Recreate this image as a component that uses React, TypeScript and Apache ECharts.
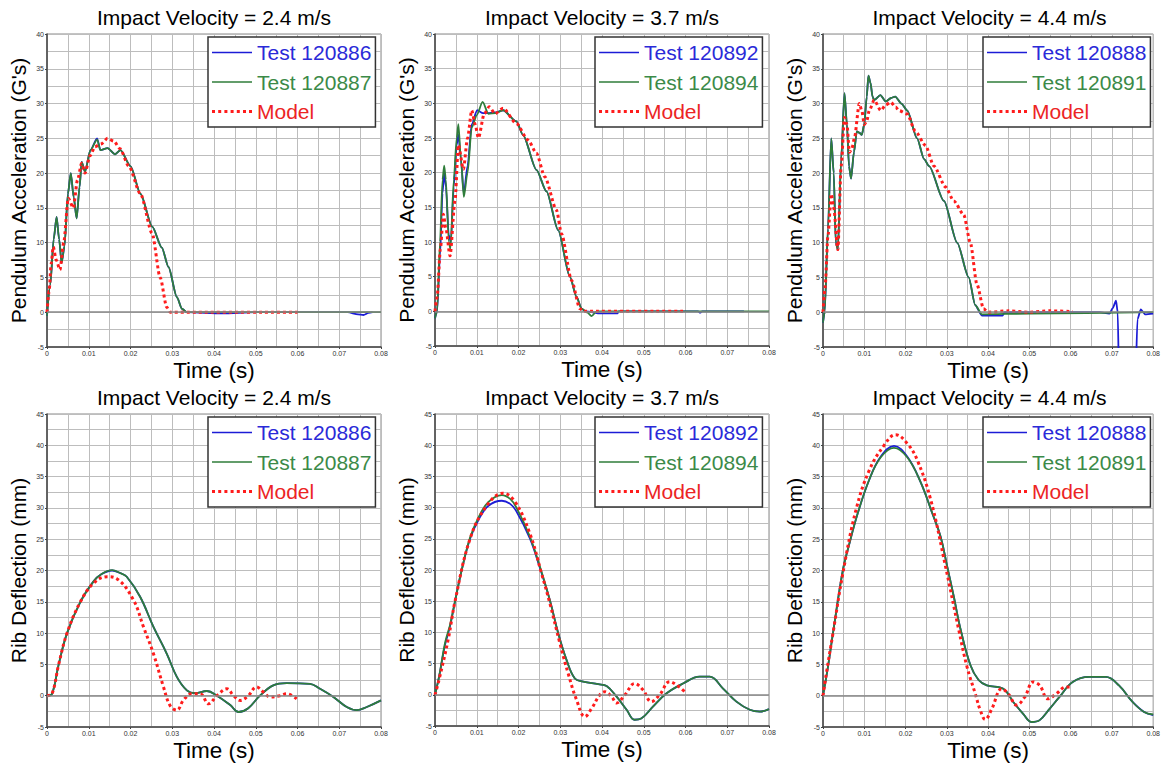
import React, { useEffect, useRef } from "react";
import * as echarts from "echarts";

type Pt = [number, number];

// ---------- Top row: Pendulum acceleration (G's) ----------
const acc24Test120886: Pt[] = [
  [0, -0.5], [0.0008, 4], [0.0016, 10.5], [0.0023, 13.7], [0.0029, 10.5], [0.0035, 7.1], [0.0042, 9.5],
  [0.005, 17], [0.0057, 20], [0.0064, 16.5], [0.0071, 13.5], [0.0078, 18], [0.0083, 21.6], [0.0091, 20.2],
  [0.0104, 23.3], [0.012, 25], [0.0128, 23.3], [0.0145, 23.6], [0.0163, 22.7], [0.0176, 23.3], [0.02, 21],
  [0.0224, 17], [0.0252, 12.3], [0.0275, 9.3], [0.0291, 6.5], [0.0311, 2.2], [0.0323, 0.5], [0.0335, 0],
  [0.042, -0.15], [0.05, 0], [0.072, 0], [0.0745, -0.3], [0.0758, -0.4], [0.077, -0.1], [0.078, 0],
];
const acc24Test120887: Pt[] = [
  [0, -0.5], [0.0008, 4], [0.0016, 10.5], [0.0023, 13.7], [0.0029, 10.5], [0.0035, 7.1], [0.0042, 9.5],
  [0.005, 17], [0.0057, 20], [0.0064, 16.5], [0.0071, 13.5], [0.0078, 18], [0.0083, 21.6], [0.0091, 20.2],
  [0.0104, 23.3], [0.012, 24.8], [0.0128, 23.3], [0.0145, 23.6], [0.0163, 22.7], [0.0176, 23.3], [0.02, 21],
  [0.0224, 17], [0.0252, 12.3], [0.0275, 9.3], [0.0291, 6.5], [0.0311, 2.2], [0.0323, 0.5], [0.0335, 0],
  [0.08, 0],
];
const acc24Model: Pt[] = [
  [0, 0], [0.0005, 3], [0.001, 7], [0.0015, 9.4], [0.0022, 7.5], [0.0031, 6.1], [0.004, 10], [0.0051, 16.4],
  [0.0063, 15], [0.0073, 19], [0.0083, 21.4], [0.0091, 20], [0.0103, 22.5], [0.0115, 23.8], [0.013, 24.2],
  [0.0145, 25], [0.016, 24.6], [0.0175, 23.5], [0.0196, 21], [0.0224, 17], [0.0252, 11.3], [0.0271, 5],
  [0.0287, 0.7], [0.0295, 0], [0.06, 0],
];

const acc37Test120892: Pt[] = [
  [0, -1], [0.0005, 0], [0.0012, 8], [0.0018, 17], [0.0022, 20], [0.0026, 18], [0.0033, 11], [0.0038, 10],
  [0.0045, 18], [0.0052, 24], [0.0056, 25.5], [0.0062, 22], [0.0069, 17], [0.0078, 21], [0.0088, 27],
  [0.0101, 29], [0.0115, 28.6], [0.013, 28.6], [0.0145, 28.7], [0.0163, 29], [0.0195, 27.4], [0.0211, 25.4],
  [0.0243, 20.4], [0.0267, 17.3], [0.0295, 11.7], [0.0323, 5], [0.0339, 2.1], [0.0351, 0.4], [0.036, 0],
  [0.0375, -0.1], [0.039, -0.3], [0.0437, -0.3], [0.044, 0], [0.063, 0], [0.0635, -0.2], [0.064, 0], [0.074, 0],
];
const acc37Test120894: Pt[] = [
  [0, -1], [0.0005, 0], [0.0012, 10], [0.0018, 19], [0.0022, 21], [0.0026, 19], [0.0033, 10], [0.0037, 9],
  [0.0045, 19], [0.0052, 25], [0.0056, 27], [0.0062, 22], [0.0069, 16.5], [0.0078, 20], [0.0088, 26.5],
  [0.01, 28.3], [0.0114, 30.2], [0.0128, 28.5], [0.0145, 28.6], [0.0163, 29], [0.0195, 27.4], [0.0211, 25.4],
  [0.0243, 20.4], [0.0267, 17.3], [0.0295, 11.7], [0.0323, 5], [0.0339, 2.1], [0.0351, 0.4], [0.0365, -0.2],
  [0.0375, -0.7], [0.0387, 0], [0.08, 0],
];
const acc37Model: Pt[] = [
  [0, 0], [0.0005, 2], [0.0013, 9], [0.002, 14], [0.0026, 12], [0.0036, 8], [0.0048, 16], [0.0056, 24],
  [0.0068, 20.5], [0.0078, 25], [0.0088, 29], [0.0096, 27], [0.0104, 25], [0.0118, 28.5], [0.013, 29.5],
  [0.0144, 28.5], [0.0163, 29.3], [0.0195, 27.1], [0.0223, 24.7], [0.0243, 22.8], [0.0263, 19.4],
  [0.0291, 14.6], [0.0303, 11.2], [0.0327, 4.5], [0.0347, 0.4], [0.0355, 0], [0.0594, 0],
];

const acc44Test120888: Pt[] = [
  [0, -1.5], [0.0004, 0], [0.0012, 12], [0.002, 25], [0.0026, 20], [0.0031, 10], [0.0036, 9], [0.0044, 22],
  [0.0052, 31.5], [0.0058, 27], [0.0063, 21], [0.0068, 19.2], [0.0075, 23], [0.0082, 26], [0.0088, 25.8],
  [0.0094, 25.5], [0.01, 27], [0.0106, 31], [0.011, 34], [0.0115, 33], [0.012, 31], [0.0124, 30.5],
  [0.0139, 31.2], [0.0152, 30.3], [0.0165, 30.8], [0.0175, 31], [0.019, 30], [0.0204, 29], [0.0228, 25],
  [0.0245, 22], [0.0257, 21], [0.0293, 16], [0.0325, 10], [0.0353, 5], [0.0369, 1], [0.0385, -0.5],
  [0.0435, -0.5], [0.044, 0], [0.067, 0], [0.0694, -0.2], [0.0702, 0.6], [0.071, 1.65], [0.0714, 0],
  [0.0718, -12], [0.0756, -12], [0.0762, -1], [0.077, 0.4], [0.0776, 0], [0.078, -0.3], [0.08, -0.2],
];
const acc44Test120891: Pt[] = [
  [0, -1.5], [0.0004, 0], [0.0012, 12], [0.002, 25], [0.0026, 20], [0.0031, 10], [0.0036, 9], [0.0044, 22],
  [0.0052, 31.5], [0.0058, 27], [0.0063, 21], [0.0068, 19.2], [0.0075, 23], [0.0082, 26], [0.0088, 25.8],
  [0.0094, 25.5], [0.01, 27], [0.0106, 31], [0.011, 34], [0.0115, 33], [0.012, 31], [0.0124, 30.5],
  [0.0139, 31.2], [0.0152, 30.3], [0.0165, 30.8], [0.0175, 31], [0.019, 30], [0.0204, 29], [0.0228, 25],
  [0.0245, 22], [0.0257, 21], [0.0293, 16], [0.0325, 10], [0.0353, 5], [0.0369, 1], [0.0385, -0.3],
  [0.05, -0.2], [0.08, 0],
];
const acc44Model: Pt[] = [
  [0, 0], [0.0005, 3.5], [0.0012, 11], [0.002, 17], [0.0026, 15], [0.0036, 9], [0.0044, 21], [0.0052, 28],
  [0.0058, 27], [0.0064, 23], [0.007, 23.5], [0.0076, 25], [0.0088, 30], [0.0094, 29], [0.01, 27],
  [0.0106, 27.5], [0.0112, 29], [0.0124, 30.5], [0.014, 29], [0.0152, 29.8], [0.0164, 30.2], [0.0176, 29.5],
  [0.0184, 29], [0.0204, 28.5], [0.0224, 26], [0.0248, 24], [0.0269, 21], [0.0297, 18], [0.0317, 16],
  [0.0341, 14], [0.0357, 10], [0.0373, 4], [0.0389, 0.5], [0.04, 0], [0.045, 0.2], [0.05, 0], [0.055, 0.2],
  [0.0605, 0.1],
];

// ---------- Bottom row: Rib deflection (mm) ----------
const def24Test120886: Pt[] = [
  [0, 0], [0.0012, 0.3], [0.0028, 5], [0.0048, 10], [0.008, 15], [0.0112, 18.3], [0.013, 19.4],
  [0.0156, 20], [0.0175, 19.6], [0.0191, 19], [0.0223, 15.8], [0.0255, 11], [0.0287, 6.7], [0.0311, 3],
  [0.0335, 0.85], [0.0355, 0.4], [0.0383, 0.75], [0.0407, 0], [0.0439, -1.5], [0.0459, -2.6], [0.0482, -2],
  [0.051, 0], [0.0542, 1.65], [0.0574, 2], [0.063, 1.9], [0.0654, 1.1], [0.0686, -0.2], [0.0718, -1.8],
  [0.0742, -2.3], [0.0766, -1.8], [0.08, -0.75],
];
const def24Test120887: Pt[] = [
  [0, 0], [0.0012, 0.3], [0.0028, 5], [0.0048, 10], [0.008, 15], [0.0112, 18.3], [0.013, 19.4],
  [0.0156, 20.05], [0.0175, 19.6], [0.0191, 19], [0.0223, 15.8], [0.0255, 11], [0.0287, 6.7], [0.0311, 3],
  [0.0335, 0.85], [0.0355, 0.4], [0.0383, 0.75], [0.0407, 0], [0.0439, -1.5], [0.0459, -2.6], [0.0482, -2],
  [0.051, 0], [0.0542, 1.65], [0.0574, 2], [0.063, 1.9], [0.0654, 1.1], [0.0686, -0.2], [0.0718, -1.8],
  [0.0742, -2.3], [0.0766, -1.8], [0.08, -0.75],
];
const def24Model: Pt[] = [
  [0, 0], [0.0012, 0.3], [0.0028, 5], [0.0048, 10], [0.008, 15], [0.0112, 18], [0.0144, 19], [0.0167, 18.7],
  [0.0207, 15.3], [0.0231, 11], [0.0255, 6.7], [0.0279, 1.4], [0.0295, -1.6], [0.0311, -2.3], [0.0327, -0.7],
  [0.0347, 0.3], [0.0367, 0.3], [0.0387, -1.3], [0.0407, 0], [0.0431, 1.1], [0.0447, 0], [0.0463, -0.75],
  [0.0482, 0], [0.0502, 1.4], [0.0518, 0.6], [0.0534, -0.2], [0.0558, 0], [0.0574, 0.3], [0.0598, -0.5],
];

const def37Test120892: Pt[] = [
  [0, 0], [0.001, 3], [0.0024, 8], [0.0036, 11], [0.0048, 15], [0.0064, 20], [0.0084, 25], [0.0104, 28],
  [0.0128, 30.3], [0.016, 31.1], [0.018, 30.6], [0.0195, 29.4], [0.0227, 25.1], [0.0251, 20.4], [0.0275, 15.2],
  [0.0295, 9.9], [0.0315, 5.6], [0.0335, 2.6], [0.0355, 2.1], [0.0391, 1.7], [0.0411, 1.4], [0.0435, -0.3],
  [0.0459, -2.4], [0.0478, -4], [0.0494, -3.8], [0.0522, -1.9], [0.0554, 0.2], [0.0594, 1.8], [0.0634, 2.9],
  [0.0658, 2.9], [0.069, 1], [0.0722, -1.1], [0.0754, -2.4], [0.0778, -2.7], [0.08, -2.3],
];
const def37Test120894: Pt[] = [
  [0, 0], [0.001, 3], [0.0024, 8.3], [0.0036, 11.2], [0.0048, 15], [0.0064, 20], [0.0084, 25.2], [0.0104, 28.4],
  [0.0128, 30.9], [0.016, 32], [0.018, 31.4], [0.0195, 30], [0.0227, 25.4], [0.0251, 20.6], [0.0275, 15.2],
  [0.0295, 9.9], [0.0315, 5.6], [0.0335, 2.6], [0.0355, 2.1], [0.0391, 1.7], [0.0411, 1.4], [0.0435, -0.3],
  [0.0459, -2.4], [0.0478, -4], [0.0494, -3.8], [0.0522, -1.9], [0.0554, 0.2], [0.0594, 1.8], [0.0634, 2.9],
  [0.0658, 2.9], [0.069, 1], [0.0722, -1.1], [0.0754, -2.4], [0.0778, -2.7], [0.08, -2.3],
];
const def37Model: Pt[] = [
  [0, 0], [0.001, 2.5], [0.0032, 9], [0.0048, 15], [0.0084, 25], [0.0124, 30.3], [0.0163, 32.3],
  [0.0191, 31], [0.0227, 25.9], [0.0255, 19.5], [0.0275, 14.7], [0.0299, 8.3], [0.0319, 3.4], [0.0339, -0.8],
  [0.0359, -3.5], [0.0375, -2.2], [0.0395, 0], [0.0407, 0.5], [0.0423, -0.3], [0.0435, -1.3], [0.0455, 0],
  [0.0478, 1.8], [0.0498, 0.8], [0.0518, -1.1], [0.0538, 0], [0.0562, 2.1], [0.0578, 1.6], [0.0598, 0.5],
];

const def44Test120888: Pt[] = [
  [0, 0], [0.0012, 4.6], [0.0024, 9.9], [0.0048, 20], [0.0064, 24.3], [0.0084, 29.1], [0.0112, 34.5],
  [0.014, 38.2], [0.0172, 39.9], [0.0204, 38.2], [0.0236, 34.2], [0.0265, 29.1], [0.0285, 25.4],
  [0.0301, 20.6], [0.0317, 15.8], [0.0333, 10.7], [0.0357, 4.9], [0.0377, 2.5], [0.0397, 1.65], [0.0437, 1.1],
  [0.0461, -1], [0.0485, -2.9], [0.0505, -4.2], [0.0525, -3.9], [0.0549, -2.1], [0.0573, -0.2],
  [0.0605, 2.2], [0.0645, 3], [0.0685, 3], [0.0717, 1.65], [0.075, -1], [0.0778, -2.6], [0.08, -3.1],
];
const def44Test120891: Pt[] = [
  [0, 0], [0.0012, 4.6], [0.0024, 9.9], [0.0048, 20], [0.0064, 24.3], [0.0084, 29.1], [0.0112, 34.5],
  [0.014, 38.1], [0.0172, 39.6], [0.0204, 38.1], [0.0236, 34.2], [0.0265, 29.1], [0.0285, 25.4],
  [0.0301, 20.6], [0.0317, 15.8], [0.0333, 10.7], [0.0357, 4.9], [0.0377, 2.5], [0.0397, 1.65], [0.0437, 1.1],
  [0.0461, -1], [0.0485, -2.9], [0.0505, -4.2], [0.0525, -3.9], [0.0549, -2.1], [0.0573, -0.2],
  [0.0605, 2.2], [0.0645, 3], [0.0685, 3], [0.0717, 1.65], [0.075, -1], [0.0778, -2.6], [0.08, -3],
];
const def44Model: Pt[] = [
  [0, 0], [0.0008, 3.5], [0.0024, 9.9], [0.0048, 19.5], [0.008, 29.7], [0.0112, 36], [0.0148, 40],
  [0.0176, 41.7], [0.0204, 40.3], [0.0228, 37.7], [0.0261, 31.3], [0.0297, 20.6], [0.0329, 10.5],
  [0.0349, 4.6], [0.0369, 0.3], [0.0381, -2.3], [0.0393, -3.8], [0.0409, -2.1], [0.0433, 1.1], [0.0449, 0.3],
  [0.0469, -1.5], [0.0489, -0.2], [0.0509, 2.2], [0.0525, 1.65], [0.0545, -0.5], [0.0565, 0.3],
  [0.0589, 1.4], [0.0601, 1.4],
];

// ---------- Labels ----------
const panelTitles = [
  "Impact Velocity = 2.4 m/s", "Impact Velocity = 3.7 m/s", "Impact Velocity = 4.4 m/s",
  "Impact Velocity = 2.4 m/s", "Impact Velocity = 3.7 m/s", "Impact Velocity = 4.4 m/s",
];
const testNames = [
  ["Test 120886", "Test 120887"], ["Test 120892", "Test 120894"], ["Test 120888", "Test 120891"],
  ["Test 120886", "Test 120887"], ["Test 120892", "Test 120894"], ["Test 120888", "Test 120891"],
];
const modelName = "Model";
const xName = "Time (s)";
const yNames = ["Pendulum Acceleration (G's)", "Rib Deflection (mm)"];
const yMaxes = [40, 45];
const panelData: Pt[][][] = [
  [acc24Test120886, acc24Test120887, acc24Model],
  [acc37Test120892, acc37Test120894, acc37Model],
  [acc44Test120888, acc44Test120891, acc44Model],
  [def24Test120886, def24Test120887, def24Model],
  [def37Test120892, def37Test120894, def37Model],
  [def44Test120888, def44Test120891, def44Model],
];

const FONT = '"Liberation Sans", Arial, Helvetica, sans-serif';
const BLUE = "#1c1cd6";
const GREEN = "#2f7d3a";
const RED = "#ff1c1c";
const GRID_C = "#bdbdbd";
const AXIS_C = "#444";
const SMOOTH = [0.25, 0.4];
const MONOTONE = ["x", undefined];

const SOLID_ICON = "path://M0,0H40V1.6H0Z";
const DOT_ICON =
  "path://M0,0h3v3h-3z M6.2,0h3v3h-3z M12.4,0h3v3h-3z M18.6,0h3v3h-3z M24.8,0h3v3h-3z M31,0h3v3h-3z M37,0h3v3h-3z";

const layout = [
  { left: 47, top: 34, width: 334, height: 313 },
  { left: 435, top: 34, width: 334, height: 312 },
  { left: 823, top: 34, width: 333, height: 313 },
  { left: 47, top: 414, width: 334, height: 313 },
  { left: 435, top: 414, width: 334, height: 312 },
  { left: 823, top: 414, width: 333, height: 313 },
];

function buildOption() {
  const grid: any[] = [];
  const xAxis: any[] = [];
  const yAxis: any[] = [];
  const title: any[] = [];
  const legend: any[] = [];
  const series: any[] = [];

  layout.forEach((g, i) => {
    const row = i < 3 ? 0 : 1;
    const smooth = SMOOTH[row];
    const smoothMonotone = MONOTONE[row];
    grid.push({ ...g, show: true, borderColor: "#888", borderWidth: 1, backgroundColor: "#fff" });
    xAxis.push({
      type: "value", gridIndex: i, min: 0, max: 0.08, interval: 0.01,
      name: xName, nameLocation: "middle", nameGap: 12,
      nameTextStyle: { fontSize: 22.5, color: "#000", fontFamily: FONT },
      axisLine: { show: true, onZero: false, lineStyle: { color: AXIS_C, width: 1.5 } },
      axisTick: { show: true, length: 2, lineStyle: { color: AXIS_C } },
      axisLabel: { fontSize: 7, color: "#333", margin: 3, fontFamily: FONT },
      splitLine: { show: true, lineStyle: { color: GRID_C, width: 1 } },
      minorTick: { show: false, splitNumber: 2 },
      minorSplitLine: { show: true, lineStyle: { color: GRID_C, width: 1 } },
    });
    yAxis.push({
      type: "value", gridIndex: i, min: -5, max: yMaxes[row], interval: 5,
      name: yNames[row], nameLocation: "middle", nameGap: 18, nameRotate: 90,
      nameTextStyle: { fontSize: 21, color: "#000", fontFamily: FONT },
      axisLine: { show: true, lineStyle: { color: AXIS_C, width: 1.5 } },
      axisTick: { show: true, length: 2, lineStyle: { color: AXIS_C } },
      axisLabel: { fontSize: 7, color: "#333", margin: 3, fontFamily: FONT },
      splitLine: { show: true, lineStyle: { color: GRID_C, width: 1 } },
      minorTick: { show: false, splitNumber: 2 },
      minorSplitLine: { show: true, lineStyle: { color: GRID_C, width: 1 } },
    });
    title.push({
      text: panelTitles[i], left: g.left + g.width / 2, top: g.top - 27, textAlign: "center", padding: 0,
      textStyle: { fontSize: 21, fontWeight: "normal", color: "#000", fontFamily: FONT },
    });
    const [b, gr, m] = panelData[i];
    legend.push({
      orient: "vertical", left: g.left + g.width - 173 + (i % 3 === 1 ? -1 : 0), top: g.top + 3,
      padding: [5, 4, 5, 4], itemGap: 8.5, itemWidth: 40, itemHeight: 12,
      backgroundColor: "#fff", borderColor: "#333", borderWidth: 1.5,
      textStyle: { fontSize: 21, fontFamily: FONT },
      selectedMode: false,
      data: [
        { name: testNames[i][0], icon: SOLID_ICON, itemStyle: { color: BLUE }, textStyle: { color: "#2a2ad8" } },
        { name: testNames[i][1], icon: SOLID_ICON, itemStyle: { color: GREEN }, textStyle: { color: "#3b8a48" } },
        { name: modelName, icon: DOT_ICON, itemStyle: { color: RED }, textStyle: { color: "#ec2424" } },
      ],
    });
    series.push({
      type: "line", name: "zero-" + i, xAxisIndex: i, yAxisIndex: i, data: [], z: 1,
      markLine: {
        silent: true, symbol: "none", label: { show: false },
        lineStyle: { color: "#888", width: 1.5, type: "solid" },
        data: [{ yAxis: 0 }],
      },
    });
    series.push({
      type: "line", name: testNames[i][0], xAxisIndex: i, yAxisIndex: i, data: b,
      symbol: "none", smooth, smoothMonotone,
      lineStyle: { color: BLUE, width: 1.8 }, itemStyle: { color: BLUE },
    });
    series.push({
      type: "line", name: testNames[i][1], xAxisIndex: i, yAxisIndex: i, data: gr,
      symbol: "none", smooth, smoothMonotone,
      lineStyle: { color: GREEN, width: 1.8 }, itemStyle: { color: GREEN },
    });
    series.push({
      type: "line", name: modelName, xAxisIndex: i, yAxisIndex: i, data: m,
      symbol: "none", smooth, smoothMonotone,
      lineStyle: { color: RED, width: 3, type: [3, 3] }, itemStyle: { color: RED },
    });
  });

  return { animation: false, backgroundColor: "#fff", textStyle: { fontFamily: FONT }, grid, xAxis, yAxis, title, legend, series };
}

export default function App() {
  const ref = useRef<HTMLDivElement>(null);
  useEffect(() => {
    if (!ref.current) return;
    const chart = echarts.init(ref.current, undefined, { renderer: "svg" });
    chart.setOption(buildOption() as any);
    return () => chart.dispose();
  }, []);
  return (
    <div
      ref={ref}
      style={{ position: "fixed", left: 0, top: 0, width: 1163, height: 765, background: "#fff" }}
    />
  );
}
